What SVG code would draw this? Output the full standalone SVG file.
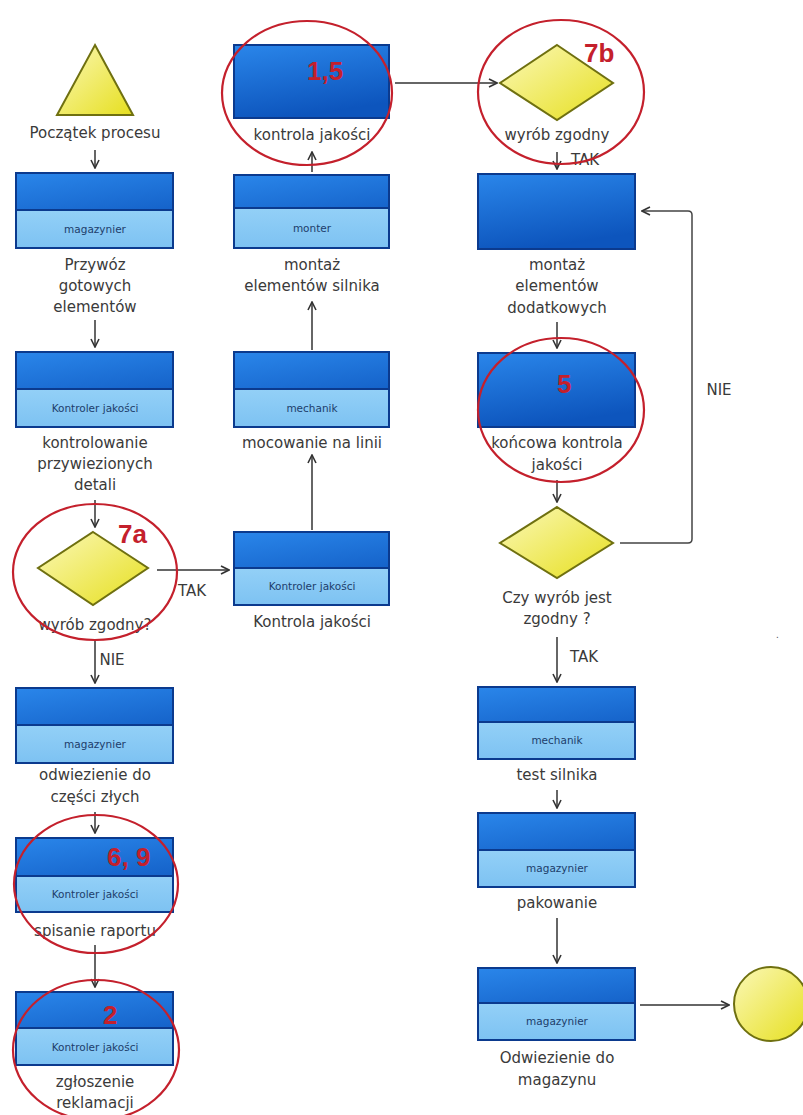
<svg xmlns="http://www.w3.org/2000/svg" width="803" height="1115" viewBox="0 0 803 1115">
<defs>
<linearGradient id="gBlue" x1="0" y1="0" x2="0.3" y2="1">
<stop offset="0" stop-color="#2a86ea"/><stop offset="1" stop-color="#0d55bd"/>
</linearGradient>
<linearGradient id="gLane" x1="0" y1="0" x2="0" y2="1">
<stop offset="0" stop-color="#93d0f7"/><stop offset="1" stop-color="#7dc2f2"/>
</linearGradient>
<linearGradient id="gYel" x1="0" y1="0" x2="1" y2="1">
<stop offset="0" stop-color="#fbf8b8"/><stop offset="1" stop-color="#e6df1e"/>
</linearGradient>
<marker id="arr" viewBox="0 0 10 10" refX="9" refY="5" markerWidth="10" markerHeight="10" orient="auto" markerUnits="userSpaceOnUse">
<path d="M1,1 L9,5 L1,9" fill="none" stroke="#333" stroke-width="1.6"/>
</marker>
</defs>
<style>
.box{fill:url(#gBlue);stroke:#0b3a8e;stroke-width:2}
.lane{fill:url(#gLane);stroke:#0b3a8e;stroke-width:2}
.lt{font-family:"DejaVu Sans",Verdana,sans-serif;font-size:10.5px;fill:#1d3d6b;text-anchor:middle}
.lbl{font-family:"DejaVu Sans",Verdana,sans-serif;font-size:15px;fill:#3a3a3a;text-anchor:middle}
.yel{fill:url(#gYel);stroke:#6f7010;stroke-width:2}
.red{fill:none;stroke:#c4202c;stroke-width:2.2}
.num{font-family:"Liberation Sans",Arial,sans-serif;font-size:26px;font-weight:bold;fill:#c4202c}
.con{fill:none;stroke:#333;stroke-width:1.5;marker-end:url(#arr)}
.lnk{fill:none;stroke:#444;stroke-width:1.5;marker-end:url(#arr)}
</style>
<rect width="803" height="1115" fill="#fff"/>

<g id="connectors">
<line class="con" x1="95" y1="150" x2="95" y2="168"/>
<line class="con" x1="95" y1="320" x2="95" y2="347"/>
<line class="con" x1="95" y1="500" x2="95" y2="527"/>
<line class="con" x1="157" y1="570" x2="229" y2="570"/>
<line class="con" x1="95" y1="640" x2="95" y2="683"/>
<line class="con" x1="95" y1="812" x2="95" y2="833"/>
<line class="con" x1="95" y1="945" x2="95" y2="987"/>
<line class="con" x1="312" y1="172" x2="312" y2="152"/>
<line class="con" x1="312" y1="350" x2="312" y2="302"/>
<line class="con" x1="312" y1="530" x2="312" y2="455"/>
<line class="con" x1="395" y1="83" x2="497" y2="83"/>
<line class="con" x1="557" y1="152" x2="557" y2="169"/>
<line class="con" x1="557" y1="322" x2="557" y2="348"/>
<line class="con" x1="557" y1="480" x2="557" y2="502"/>
<path class="lnk" d="M620,543 L688,543 Q692,543 692,539 L692,215 Q692,211 688,211 L642,211"/>
<line class="con" x1="557" y1="637" x2="557" y2="682"/>
<line class="con" x1="557" y1="790" x2="557" y2="808"/>
<line class="con" x1="557" y1="918" x2="557" y2="963"/>
<line class="con" x1="640" y1="1005" x2="729" y2="1005"/>
<text class="lbl" x="192" y="596">TAK</text>
<text class="lbl" x="112" y="665">NIE</text>
<text class="lbl" x="585" y="165">TAK</text>
<text class="lbl" x="719" y="395">NIE</text>
<text class="lbl" x="584" y="662">TAK</text>
</g>

<g id="start">
<polygon class="yel" points="95,45 133,115 57,115"/>
<text class="lbl" x="95" y="138">Początek procesu</text>
</g>

<g id="n-przywoz">
<rect class="box" x="16" y="173" width="157" height="75"/>
<rect class="lane" x="16" y="210" width="157" height="38"/>
<text class="lt" x="95" y="233">magazynier</text>
<text class="lbl" x="95" y="270">Przywóz</text>
<text class="lbl" x="95" y="291">gotowych</text>
<text class="lbl" x="95" y="312">elementów</text>
</g>

<g id="n-kontrolowanie">
<rect class="box" x="16" y="352" width="157" height="75"/>
<rect class="lane" x="16" y="389" width="157" height="38"/>
<text class="lt" x="95" y="412">Kontroler jakości</text>
<text class="lbl" x="95" y="448">kontrolowanie</text>
<text class="lbl" x="95" y="469">przywiezionych</text>
<text class="lbl" x="95" y="490">detali</text>
</g>

<g id="n-7a">
<polygon class="yel" points="93,532 148,568 93,605 38,568"/>
<text class="lbl" x="95" y="630">wyrób zgodny?</text>
<ellipse class="red" cx="95" cy="572" rx="82" ry="68"/>
<text class="num" x="118" y="543">7a</text>
</g>

<g id="n-odwiezienie">
<rect class="box" x="16" y="688" width="157" height="75"/>
<rect class="lane" x="16" y="725" width="157" height="38"/>
<text class="lt" x="95" y="748">magazynier</text>
<text class="lbl" x="95" y="780">odwiezienie do</text>
<text class="lbl" x="95" y="802">części złych</text>
</g>

<g id="n-raport">
<rect class="box" x="16" y="838" width="157" height="74"/>
<rect class="lane" x="16" y="876" width="157" height="36"/>
<text class="lt" x="95" y="898">Kontroler jakości</text>
<text class="lbl" x="95" y="936">spisanie raportu</text>
<ellipse class="red" cx="96" cy="884" rx="82" ry="69"/>
<text class="num" x="107" y="866">6, 9</text>
</g>

<g id="n-reklamacja">
<rect class="box" x="16" y="992" width="157" height="73"/>
<rect class="lane" x="16" y="1028" width="157" height="37"/>
<text class="lt" x="95" y="1051">Kontroler jakości</text>
<text class="lbl" x="95" y="1087">zgłoszenie</text>
<text class="lbl" x="95" y="1108">reklamacji</text>
<ellipse class="red" cx="96" cy="1050" rx="83" ry="70"/>
<text class="num" x="103" y="1024">2</text>
</g>

<g id="n-kontrola15">
<rect class="box" x="234" y="45" width="155" height="73"/>
<text class="lbl" x="312" y="140">kontrola jakości</text>
<ellipse class="red" cx="307" cy="93" rx="85" ry="72"/>
<text class="num" x="307" y="80">1,5</text>
</g>

<g id="n-montaz">
<rect class="box" x="234" y="175" width="155" height="73"/>
<rect class="lane" x="234" y="208" width="155" height="40"/>
<text class="lt" x="312" y="232">monter</text>
<text class="lbl" x="312" y="270">montaż</text>
<text class="lbl" x="312" y="291">elementów silnika</text>
</g>

<g id="n-mocowanie">
<rect class="box" x="234" y="352" width="155" height="75"/>
<rect class="lane" x="234" y="389" width="155" height="38"/>
<text class="lt" x="312" y="412">mechanik</text>
<text class="lbl" x="312" y="448">mocowanie na linii</text>
</g>

<g id="n-kontrola">
<rect class="box" x="234" y="532" width="155" height="73"/>
<rect class="lane" x="234" y="568" width="155" height="37"/>
<text class="lt" x="312" y="590">Kontroler jakości</text>
<text class="lbl" x="312" y="627">Kontrola jakości</text>
</g>

<g id="n-7b">
<polygon class="yel" points="557,45 613,83 557,120 500,83"/>
<text class="lbl" x="557" y="140">wyrób zgodny</text>
<ellipse class="red" cx="561" cy="92" rx="83" ry="72"/>
<text class="num" x="584" y="62">7b</text>
</g>

<g id="n-montazdod">
<rect class="box" x="478" y="174" width="157" height="75"/>
<text class="lbl" x="557" y="270">montaż</text>
<text class="lbl" x="557" y="291">elementów</text>
<text class="lbl" x="557" y="313">dodatkowych</text>
</g>

<g id="n-koncowa">
<rect class="box" x="478" y="353" width="157" height="74"/>
<text class="lbl" x="557" y="448">końcowa kontrola</text>
<text class="lbl" x="557" y="470">jakości</text>
<ellipse class="red" cx="561" cy="410" rx="83" ry="72"/>
<text class="num" x="557" y="393">5</text>
</g>

<g id="n-czy">
<polygon class="yel" points="557,507 613,543 557,578 500,543"/>
<text class="lbl" x="557" y="603">Czy wyrób jest</text>
<text class="lbl" x="557" y="624">zgodny ?</text>
</g>

<g id="n-test">
<rect class="box" x="478" y="687" width="157" height="72"/>
<rect class="lane" x="478" y="722" width="157" height="37"/>
<text class="lt" x="557" y="744">mechanik</text>
<text class="lbl" x="557" y="780">test silnika</text>
</g>

<g id="n-pakowanie">
<rect class="box" x="478" y="813" width="157" height="74"/>
<rect class="lane" x="478" y="850" width="157" height="37"/>
<text class="lt" x="557" y="872">magazynier</text>
<text class="lbl" x="557" y="908">pakowanie</text>
</g>

<g id="n-odwiezmag">
<rect class="box" x="478" y="968" width="157" height="72"/>
<rect class="lane" x="478" y="1003" width="157" height="37"/>
<text class="lt" x="557" y="1025">magazynier</text>
<text class="lbl" x="557" y="1063">Odwiezienie do</text>
<text class="lbl" x="557" y="1085">magazynu</text>
</g>

<g id="end">
<circle class="yel" cx="771" cy="1004" r="37"/>
</g>

<text x="776" y="638" font-family="Liberation Sans,sans-serif" font-size="10" fill="#555">.</text>
</svg>
